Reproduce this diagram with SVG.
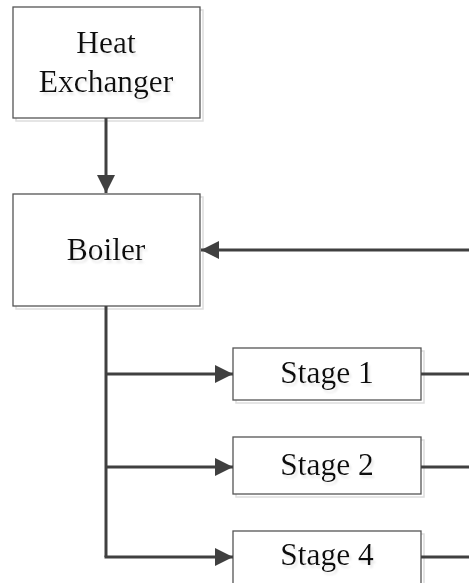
<svg xmlns="http://www.w3.org/2000/svg" width="469" height="583" viewBox="0 0 469 583">
  <style>
    .box { fill: #ffffff; stroke: #555555; stroke-width: 1.3; }
    .shadow { fill: none; stroke: #dddddd; stroke-width: 1.5; }
    .label { font-family: "Liberation Serif", "Times New Roman", serif; font-size: 31.5px; fill: #111111; text-anchor: middle; filter: url(#textshadow); }
    .wire { fill: none; stroke: #404040; stroke-width: 3; }
  </style>
  <defs>
    <!-- soft grey drop shadow under the labels -->
    <filter id="textshadow" x="-10%" y="-30%" width="130%" height="170%">
      <feOffset in="SourceAlpha" dx="2" dy="3" result="off"/>
      <feGaussianBlur in="off" stdDeviation="0.8" result="blur"/>
      <feColorMatrix in="blur" type="matrix" values="0 0 0 0 0.8  0 0 0 0 0.8  0 0 0 0 0.8  0 0 0 0.9 0" result="grey"/>
      <feMerge>
        <feMergeNode in="grey"/>
        <feMergeNode in="SourceGraphic"/>
      </feMerge>
    </filter>
    <marker id="head" viewBox="0 0 18 18" refX="18" refY="9" markerWidth="18" markerHeight="18" markerUnits="userSpaceOnUse" orient="auto">
      <path d="M0,0 L18,9 L0,18 Z" fill="#404040"/>
    </marker>
  </defs>

  <rect width="469" height="583" fill="#ffffff"/>

  <g id="heat-exchanger">
    <rect class="shadow" x="16" y="10" width="187" height="111"/>
    <rect class="box" x="13" y="7" width="187" height="111"/>
    <text class="label" x="106" y="53">Heat</text>
    <text class="label" x="106" y="92">Exchanger</text>
  </g>

  <g id="boiler">
    <rect class="shadow" x="16" y="197" width="187" height="112"/>
    <rect class="box" x="13" y="194" width="187" height="112"/>
    <text class="label" x="106" y="260">Boiler</text>
  </g>

  <g id="stage-1">
    <rect class="shadow" x="236" y="351" width="188" height="52"/>
    <rect class="box" x="233" y="348" width="188" height="52"/>
    <text class="label" x="327" y="383">Stage 1</text>
  </g>

  <g id="stage-2">
    <rect class="shadow" x="236" y="440" width="188" height="57"/>
    <rect class="box" x="233" y="437" width="188" height="57"/>
    <text class="label" x="327" y="475">Stage 2</text>
  </g>

  <g id="stage-4">
    <rect class="shadow" x="236" y="534" width="188" height="60"/>
    <rect class="box" x="233" y="531" width="188" height="60"/>
    <text class="label" x="327" y="565">Stage 4</text>
  </g>

  <g id="connectors">
    <path class="wire" d="M106,118 V193" marker-end="url(#head)"/>
    <path class="wire" d="M469,250 H201" marker-end="url(#head)"/>
    <path class="wire" d="M106,306 V557"/>
    <path class="wire" d="M106,374 H233" marker-end="url(#head)"/>
    <path class="wire" d="M106,467 H233" marker-end="url(#head)"/>
    <path class="wire" d="M104.5,557 H233" marker-end="url(#head)"/>
    <path class="wire" d="M421,374 H469"/>
    <path class="wire" d="M421,467 H469"/>
    <path class="wire" d="M421,557 H469"/>
  </g>
</svg>
